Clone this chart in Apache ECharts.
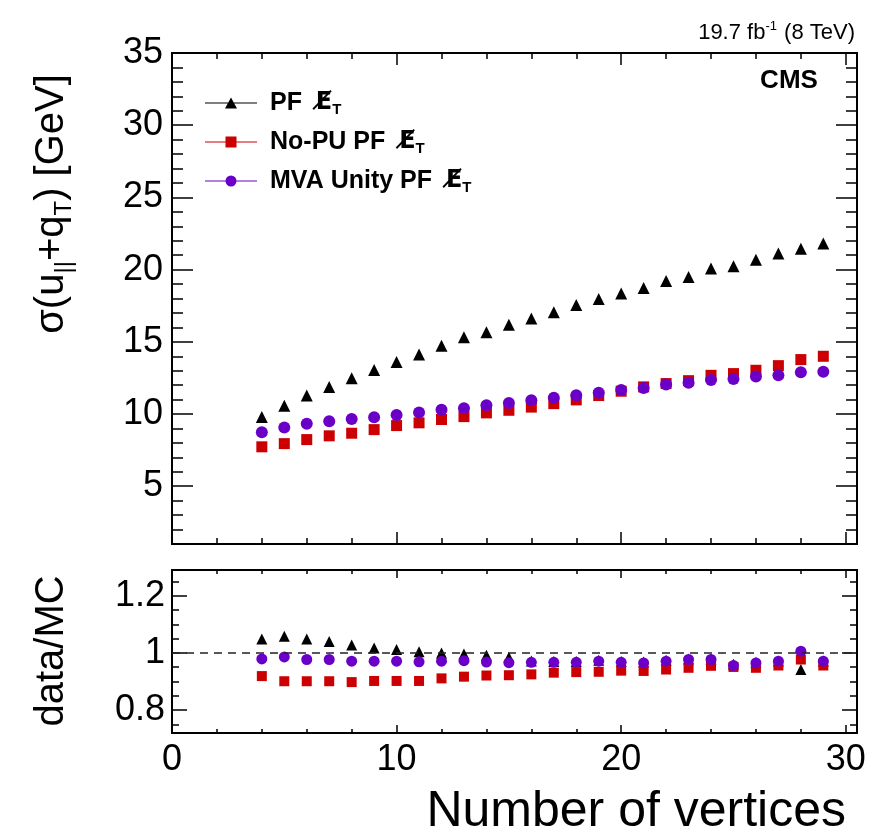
<!DOCTYPE html>
<html>
<head>
<meta charset="utf-8">
<script src="https://cdn.jsdelivr.net/npm/echarts@6/dist/echarts.min.js"></script>
<style>
  html, body { margin: 0; padding: 0; background: #ffffff; }
  #chart { width: 875px; height: 838px; }
</style>
</head>
<body>
<div id="chart"></div>
<script>
// Number of reconstructed vertices (bin centres)
const vertices = [4, 5, 6, 7, 8, 9, 10, 11, 12, 13, 14, 15, 16, 17, 18, 19, 20, 21, 22, 23, 24, 25, 26, 27, 28, 29];

// Resolution sigma(u_par + q_T) in GeV
const sigmaPF   = [9.80, 10.58, 11.28, 11.88, 12.47, 13.05, 13.61, 14.13, 14.72, 15.31, 15.66, 16.19, 16.61, 17.04, 17.55, 17.97, 18.34, 18.73, 19.22, 19.49, 20.07, 20.23, 20.69, 21.11, 21.45, 21.80];
const sigmaNoPU = [7.73, 7.95, 8.23, 8.49, 8.67, 8.92, 9.20, 9.39, 9.62, 9.82, 10.08, 10.26, 10.48, 10.72, 10.98, 11.28, 11.58, 11.88, 12.11, 12.31, 12.68, 12.80, 13.03, 13.35, 13.77, 14.00];
const sigmaMVA  = [8.74, 9.06, 9.32, 9.50, 9.66, 9.78, 9.94, 10.10, 10.29, 10.40, 10.61, 10.77, 10.95, 11.12, 11.30, 11.48, 11.66, 11.81, 12.05, 12.16, 12.36, 12.43, 12.60, 12.68, 12.90, 12.93];

// data/MC ratios
const ratioPF   = [1.049, 1.058, 1.049, 1.040, 1.028, 1.017, 1.012, 1.004, 1.000, 0.996, 0.992, 0.985, 0.972, 0.970, 0.970, 0.974, 0.970, 0.968, 0.974, 0.979, 0.979, 0.960, 0.967, 0.972, 0.942, 0.972];
const ratioNoPU = [0.919, 0.901, 0.901, 0.901, 0.898, 0.902, 0.902, 0.902, 0.911, 0.917, 0.921, 0.922, 0.925, 0.931, 0.933, 0.934, 0.938, 0.937, 0.942, 0.948, 0.955, 0.951, 0.948, 0.956, 0.977, 0.956];
const ratioMVA  = [0.979, 0.986, 0.977, 0.977, 0.971, 0.971, 0.971, 0.969, 0.971, 0.973, 0.968, 0.966, 0.967, 0.967, 0.967, 0.971, 0.967, 0.965, 0.971, 0.977, 0.977, 0.956, 0.965, 0.971, 1.006, 0.971];

// Tick labels
const xTickLabels     = [0, 10, 20, 30];
const sigmaTickLabels = [5, 10, 15, 20, 25, 30, 35];
const ratioTickLabels = [0.8, 1, 1.2];

const FONT = "'Liberation Sans', Arial, Helvetica, sans-serif";
const SYMFONT = "'DejaVu Sans', sans-serif";
const BLACK = '#000000';
const RED = '#cc0000';
const VIOLET = '#6a00c8';

function steps(a, b, step) {
  const out = [];
  for (let v = a; v <= b + 1e-9; v += step) out.push(+v.toFixed(4));
  return out;
}
const xMinor = steps(2, 30, 2);
const sigmaMinor = steps(2, 34, 1);
const ratioMinor = steps(0.75, 1.25, 0.05);

const X_RANGE = [0, 30.5];
const SIGMA_RANGE = [1, 35];
const RATIO_RANGE = [0.72, 1.29];

const xAxes = [];
const yAxes = [];

function tickLabelStyle(values, margin) {
  return {
    show: true, customValues: values, margin: margin,
    fontSize: 36, color: BLACK, fontFamily: FONT
  };
}

function addAxis(list, opts) {
  const [min, max] = opts.range;
  list.push({
    type: 'value', gridIndex: opts.grid, position: opts.position, min: min, max: max,
    axisLine: { show: true, onZero: false, lineStyle: { color: BLACK, width: 2 } },
    axisTick: { show: true, inside: true, length: opts.len, customValues: opts.ticks,
                lineStyle: { color: BLACK, width: 1.5 } },
    axisLabel: opts.labels ? tickLabelStyle(opts.labels, opts.margin) : { show: false },
    splitLine: { show: false },
    minorTick: { show: false }
  });
  return list.length - 1;
}

// upper panel: frame with ticks on all four sides
const xUp = addAxis(xAxes, { grid: 0, position: 'bottom', range: X_RANGE, ticks: xTickLabels, len: 12 });
addAxis(xAxes, { grid: 0, position: 'bottom', range: X_RANGE, ticks: xMinor, len: 6 });
addAxis(xAxes, { grid: 0, position: 'top', range: X_RANGE, ticks: xTickLabels, len: 12 });
addAxis(xAxes, { grid: 0, position: 'top', range: X_RANGE, ticks: xMinor, len: 6 });
const yUp = addAxis(yAxes, { grid: 0, position: 'left', range: SIGMA_RANGE, ticks: sigmaTickLabels, len: 21, labels: sigmaTickLabels, margin: 9 });
addAxis(yAxes, { grid: 0, position: 'left', range: SIGMA_RANGE, ticks: sigmaMinor, len: 11 });
addAxis(yAxes, { grid: 0, position: 'right', range: SIGMA_RANGE, ticks: sigmaTickLabels, len: 21 });
addAxis(yAxes, { grid: 0, position: 'right', range: SIGMA_RANGE, ticks: sigmaMinor, len: 11 });

// lower panel: ratio
const xLow = addAxis(xAxes, { grid: 1, position: 'bottom', range: X_RANGE, ticks: xTickLabels, len: 8, labels: xTickLabels, margin: 9 });
addAxis(xAxes, { grid: 1, position: 'bottom', range: X_RANGE, ticks: xMinor, len: 4 });
addAxis(xAxes, { grid: 1, position: 'top', range: X_RANGE, ticks: xTickLabels, len: 8 });
addAxis(xAxes, { grid: 1, position: 'top', range: X_RANGE, ticks: xMinor, len: 4 });
const yLow = addAxis(yAxes, { grid: 1, position: 'left', range: RATIO_RANGE, ticks: ratioTickLabels, len: 15, labels: ratioTickLabels, margin: 7 });
addAxis(yAxes, { grid: 1, position: 'left', range: RATIO_RANGE, ticks: ratioMinor, len: 7 });
addAxis(yAxes, { grid: 1, position: 'right', range: RATIO_RANGE, ticks: ratioTickLabels, len: 15 });
addAxis(yAxes, { grid: 1, position: 'right', range: RATIO_RANGE, ticks: ratioMinor, len: 7 });

function pairs(values) {
  return vertices.map((v, i) => [v, values[i]]);
}

const NAME_PF = 'PF';
const NAME_NOPU = 'No-PU PF';
const NAME_MVA = 'MVA Unity PF';

function scatter(name, values, color, symbol, size, xi, yi) {
  return {
    name: name, type: 'scatter', xAxisIndex: xi, yAxisIndex: yi,
    symbol: symbol, symbolSize: size, z: 3,
    itemStyle: { color: color, opacity: 1 },
    data: pairs(values)
  };
}

// legend icons: a thin line with the marker in the middle
const ICON_LINE = 'M0,5.5L52,5.5L52,6.5L0,6.5Z ';
const ICON_TRI = 'path://' + ICON_LINE + 'M26,0.5L32,11.5L20,11.5Z';
const ICON_SQ = 'path://' + ICON_LINE + 'M20.5,0.5L31.5,0.5L31.5,11.5L20.5,11.5Z';
const ICON_DOT = 'path://' + ICON_LINE + 'M31.5,6A5.5,5.5 0 1 1 20.5,6A5.5,5.5 0 1 1 31.5,6Z';

// missing transverse energy: E with an overlaid slash
const MET = 'E\u0338';

const option = {
  animation: false,
  backgroundColor: '#ffffff',
  grid: [
    { left: 172, top: 53, width: 685, height: 491 },
    { left: 172, top: 570, width: 685, height: 163 }
  ],
  xAxis: xAxes,
  yAxis: yAxes,
  legend: {
    orient: 'vertical', left: 200, top: 84, itemGap: 11,
    itemWidth: 52, itemHeight: 11,
    data: [
      { name: NAME_PF, icon: ICON_TRI },
      { name: NAME_NOPU, icon: ICON_SQ },
      { name: NAME_MVA, icon: ICON_DOT }
    ],
    formatter: function (name) {
      return '{t|' + name + '  }{m|' + MET + '}{s|T}';
    },
    textStyle: {
      rich: {
        t: { fontFamily: FONT, fontWeight: 'bold', fontSize: 25, color: BLACK, lineHeight: 28, padding: [0, 0, 0, 8] },
        m: { fontFamily: SYMFONT, fontWeight: 'bold', fontSize: 24, color: BLACK, lineHeight: 28 },
        s: { fontFamily: FONT, fontWeight: 'bold', fontSize: 15, color: BLACK, lineHeight: 15, padding: [13, 0, 0, 0] }
      }
    }
  },
  graphic: [
    {
      type: 'text', x: 855, y: 33,
      style: {
        text: '{a|19.7 fb}{b|-1}{a| (8 TeV)}', align: 'right', verticalAlign: 'middle',
        rich: {
          a: { fontFamily: FONT, fontSize: 22, color: BLACK, lineHeight: 26 },
          b: { fontFamily: FONT, fontSize: 13, color: BLACK, lineHeight: 13, padding: [0, 1, 13, 0] }
        }
      }
    },
    {
      type: 'text', x: 789, y: 81,
      style: { text: 'CMS', fontFamily: FONT, fontWeight: 'bold', fontSize: 26, fill: BLACK, align: 'center', verticalAlign: 'middle' }
    },
    {
      type: 'text', x: 52, y: 204, rotation: Math.PI / 2,
      style: {
        text: '{a|\u03c3(u}{s|||}{a|+q}{s|T}{a|) [GeV]}', align: 'center', verticalAlign: 'middle',
        rich: {
          a: { fontFamily: FONT, fontSize: 40, color: BLACK, lineHeight: 48 },
          s: { fontFamily: FONT, fontSize: 24, color: BLACK, lineHeight: 24, padding: [24, 0, 0, 0] }
        }
      }
    },
    {
      type: 'text', x: 52, y: 651, rotation: Math.PI / 2,
      style: { text: 'data/MC', fontFamily: FONT, fontSize: 40, fill: BLACK, align: 'center', verticalAlign: 'middle' }
    },
    {
      type: 'text', x: 846, y: 812,
      style: { text: 'Number of vertices', fontFamily: FONT, fontSize: 50, fill: BLACK, align: 'right', verticalAlign: 'middle' }
    }
  ],
  series: [
    scatter(NAME_PF, sigmaPF, BLACK, 'triangle', 12, xUp, yUp),
    scatter(NAME_NOPU, sigmaNoPU, RED, 'rect', 11, xUp, yUp),
    scatter(NAME_MVA, sigmaMVA, VIOLET, 'circle', 12, xUp, yUp),
    {
      name: 'unity', type: 'scatter', xAxisIndex: xLow, yAxisIndex: yLow, z: 1,
      data: [],
      markLine: {
        silent: true, symbol: 'none', label: { show: false },
        lineStyle: { color: '#222222', width: 1.5, type: [8, 6] },
        data: [{ yAxis: 1 }]
      }
    },
    scatter(NAME_PF, ratioPF, BLACK, 'triangle', 11, xLow, yLow),
    scatter(NAME_NOPU, ratioNoPU, RED, 'rect', 10, xLow, yLow),
    scatter(NAME_MVA, ratioMVA, VIOLET, 'circle', 11, xLow, yLow)
  ]
};

const chart = echarts.init(document.getElementById('chart'), null, { renderer: 'canvas' });
chart.setOption(option);
</script>
</body>
</html>
